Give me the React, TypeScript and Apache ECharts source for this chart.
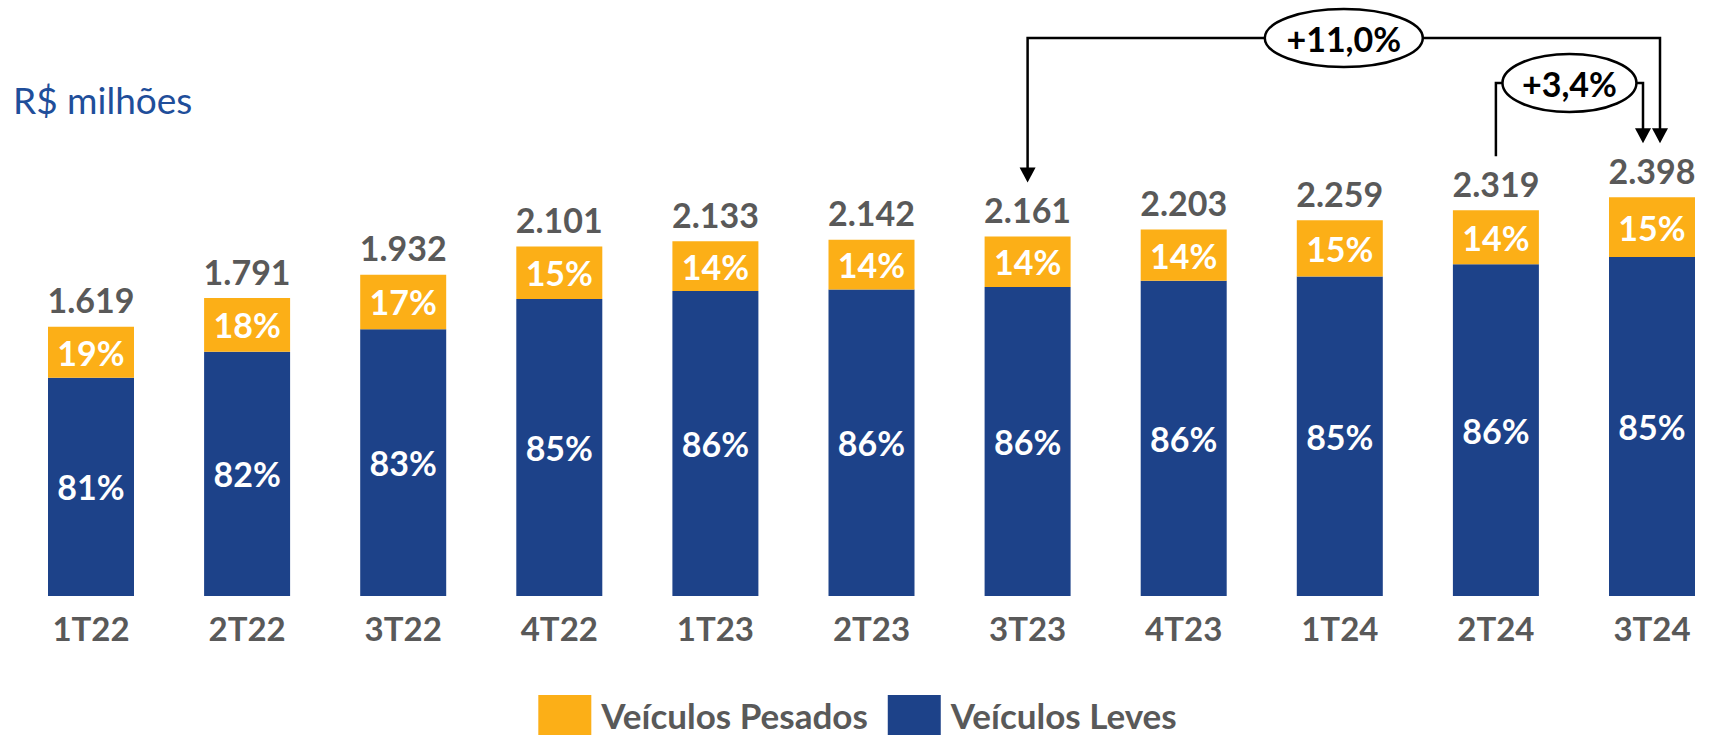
import React, { useEffect, useRef } from 'react';
import * as echarts from 'echarts';

const categories = ['1T22', '2T22', '3T22', '4T22', '1T23', '2T23', '3T23', '4T23', '1T24', '2T24', '3T24'];
const totals = [1619, 1791, 1932, 2101, 2133, 2142, 2161, 2203, 2259, 2319, 2398];
const levesShare = [81, 82, 83, 85, 86, 86, 86, 86, 85, 86, 85];
const pesadosShare = [19, 18, 17, 15, 14, 14, 14, 14, 15, 14, 15];
const comparisons = [
  { from: '3T23', to: '3T24', label: '+11,0%' },
  { from: '2T24', to: '3T24', label: '+3,4%' },
];

const BLUE = '#1D4289';
const ORANGE = '#FCAF17';
const GRAY = '#595959';
const FONT = 'Lato, "Open Sans", sans-serif';

function fmt(v: number): string {
  const s = String(v);
  return s.length > 3 ? s.slice(0, -3) + '.' + s.slice(-3) : s;
}

// layout of the comparison brackets (pixels)
const bracketLayout = [
  { level: 38, toOffset: 8, fromArrow: true, rx: 79, ry: 29 },
  { level: 83, toOffset: -9, fromArrow: false, rx: 67, ry: 29 },
];

export default function App() {
  const ref = useRef<HTMLDivElement>(null);
  useEffect(() => {
    const chart = echarts.init(ref.current!, null, { renderer: 'svg' });
    const leves = totals.map((t, i) => (t * levesShare[i]) / 100);
    const pesados = totals.map((t, i) => (t * pesadosShare[i]) / 100);
    const labelBase = { fontFamily: FONT, fontWeight: 'bold' as const, fontSize: 33 };
    chart.setOption({
      animation: false,
      title: {
        text: 'R$ milhões',
        left: 13,
        top: 81,
        padding: 0,
        textStyle: { color: '#1F4E9A', fontFamily: FONT, fontWeight: 'normal', fontSize: 37 },
      },
      legend: {
        data: ['Veículos Pesados', 'Veículos Leves'],
        left: 'center',
        top: 695,
        padding: 0,
        icon: 'rect',
        itemWidth: 53,
        itemHeight: 40,
        itemGap: 20,
        textStyle: { ...labelBase, fontSize: 35, color: GRAY, padding: [0, 0, 0, 5] },
      },
      grid: { left: 91, right: 63, top: 97, bottom: 141 },
      xAxis: {
        type: 'category',
        data: categories,
        boundaryGap: false,
        axisLine: { show: false },
        axisTick: { show: false },
        axisLabel: { ...labelBase, color: GRAY, margin: 15 },
      },
      yAxis: { type: 'value', min: 0, max: 3000, show: false },
      series: [
        {
          name: 'Veículos Leves',
          type: 'bar',
          stack: 'a',
          barWidth: 86,
          data: leves,
          itemStyle: { color: BLUE },
          label: {
            show: true,
            position: 'inside',
            ...labelBase,
            fontSize: 34,
            color: '#FFFFFF',
            formatter: (p: any) => levesShare[p.dataIndex] + '%',
          },
        },
        {
          name: 'Veículos Pesados',
          type: 'bar',
          stack: 'a',
          barWidth: 86,
          data: pesados,
          itemStyle: { color: ORANGE },
          label: {
            show: true,
            position: 'inside',
            ...labelBase,
            fontSize: 34,
            color: '#FFFFFF',
            formatter: (p: any) => pesadosShare[p.dataIndex] + '%',
          },
        },
        {
          name: 'Total',
          type: 'bar',
          stack: 'a',
          barWidth: 86,
          data: totals.map(() => 0),
          itemStyle: { color: 'transparent' },
          label: {
            show: true,
            position: 'top',
            distance: 10,
            ...labelBase,
            fontSize: 34,
            color: GRAY,
            formatter: (p: any) => fmt(totals[p.dataIndex]),
          },
        },
      ],
    });

    const px = (c: string) => chart.convertToPixel({ xAxisIndex: 0 }, c) as number;
    const py = (v: number) => chart.convertToPixel({ yAxisIndex: 0 }, v) as number;
    const GAP = 54;
    const AH = 15;
    const AW = 8;
    const elements: any[] = [];
    comparisons.forEach((c, k) => {
      const lay = bracketLayout[k];
      const xL = px(c.from);
      const xR = px(c.to) + lay.toOffset;
      const tipL = py(totals[categories.indexOf(c.from)]) - GAP;
      const tipR = py(totals[categories.indexOf(c.to)]) - GAP;
      const y = lay.level;
      const lineStyle = { stroke: '#000', lineWidth: 2.5, fill: null };
      elements.push({
        type: 'polyline',
        shape: {
          points: [
            [xL, lay.fromArrow ? tipL - AH + 1 : tipL],
            [xL, y],
            [xR, y],
            [xR, tipR - AH + 1],
          ],
        },
        style: lineStyle,
        z: 10,
      });
      const arrow = (x: number, tip: number) => ({
        type: 'polygon',
        shape: { points: [[x - AW, tip - AH], [x + AW, tip - AH], [x, tip]] },
        style: { fill: '#000' },
        z: 10,
      });
      if (lay.fromArrow) elements.push(arrow(xL, tipL));
      elements.push(arrow(xR, tipR));
      const cx = (xL + xR) / 2;
      elements.push({
        type: 'ellipse',
        shape: { cx, cy: y, rx: lay.rx, ry: lay.ry },
        style: { fill: '#FFFFFF', stroke: '#000', lineWidth: 2.5 },
        z: 11,
      });
      elements.push({
        type: 'text',
        x: cx,
        y: y,
        style: {
          text: c.label,
          align: 'center',
          verticalAlign: 'middle',
          fontFamily: FONT,
          fontWeight: 'bold',
          fontSize: 34,
          fill: '#000',
        },
        z: 12,
      });
    });
    chart.setOption({ graphic: { elements } });

    return () => chart.dispose();
  }, []);
  return (
    <div
      ref={ref}
      style={{ position: 'fixed', left: 0, top: 0, width: 1715, height: 737, background: '#fff' }}
    />
  );
}
